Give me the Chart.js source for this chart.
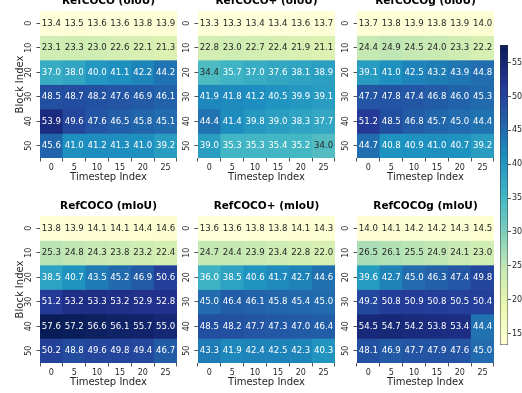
<!DOCTYPE html>
<html>
<head>
<meta charset="utf-8">
<script src="https://cdn.jsdelivr.net/npm/chart.js@4.4.1/dist/chart.umd.min.js"></script>
<style>
  html, body { margin: 0; padding: 0; background: #fff; }
  body { position: relative; width: 522px; height: 393px; overflow: hidden; }
  .panel { position: absolute; }
</style>
</head>
<body>
<script>
// Axes of every heatmap
const timesteps = [0, 5, 10, 15, 20, 25];
const blocks = [0, 10, 20, 30, 40, 50];

// One row per block index, one column per timestep
const refcocoOIoU = [
  [13.4, 13.5, 13.6, 13.6, 13.8, 13.9],
  [23.1, 23.3, 23.0, 22.6, 22.1, 21.3],
  [37.0, 38.0, 40.0, 41.1, 42.2, 44.2],
  [48.5, 48.7, 48.2, 47.6, 46.9, 46.1],
  [53.9, 49.6, 47.6, 46.5, 45.8, 45.1],
  [45.6, 41.0, 41.2, 41.3, 41.0, 39.2]
];
const refcocoPlusOIoU = [
  [13.3, 13.3, 13.4, 13.4, 13.6, 13.7],
  [22.8, 23.0, 22.7, 22.4, 21.9, 21.1],
  [34.4, 35.7, 37.0, 37.6, 38.1, 38.9],
  [41.9, 41.8, 41.2, 40.5, 39.9, 39.1],
  [44.4, 41.4, 39.8, 39.0, 38.3, 37.7],
  [39.0, 35.3, 35.3, 35.4, 35.2, 34.0]
];
const refcocogOIoU = [
  [13.7, 13.8, 13.9, 13.8, 13.9, 14.0],
  [24.4, 24.9, 24.5, 24.0, 23.3, 22.2],
  [39.1, 41.0, 42.5, 43.2, 43.9, 44.8],
  [47.7, 47.8, 47.4, 46.8, 46.0, 45.3],
  [51.2, 48.5, 46.8, 45.7, 45.0, 44.4],
  [44.7, 40.8, 40.9, 41.0, 40.7, 39.2]
];
const refcocoMIoU = [
  [13.8, 13.9, 14.1, 14.1, 14.4, 14.6],
  [25.3, 24.8, 24.3, 23.8, 23.2, 22.4],
  [38.5, 40.7, 43.5, 45.2, 46.9, 50.6],
  [51.2, 53.2, 53.3, 53.2, 52.9, 52.8],
  [57.6, 57.2, 56.6, 56.1, 55.7, 55.0],
  [50.2, 48.8, 49.6, 49.8, 49.4, 46.7]
];
const refcocoPlusMIoU = [
  [13.6, 13.6, 13.8, 13.8, 14.1, 14.3],
  [24.7, 24.4, 23.9, 23.4, 22.8, 22.0],
  [36.0, 38.5, 40.6, 41.7, 42.7, 44.6],
  [45.0, 46.4, 46.1, 45.8, 45.4, 45.0],
  [48.5, 48.2, 47.7, 47.3, 47.0, 46.4],
  [43.3, 41.9, 42.4, 42.5, 42.3, 40.3]
];
const refcocogMIoU = [
  [14.0, 14.1, 14.2, 14.2, 14.3, 14.5],
  [26.5, 26.1, 25.5, 24.9, 24.1, 23.0],
  [39.6, 42.7, 45.0, 46.3, 47.4, 49.8],
  [49.2, 50.8, 50.9, 50.8, 50.5, 50.4],
  [54.5, 54.7, 54.2, 53.8, 53.4, 44.4],
  [48.1, 46.9, 47.7, 47.9, 47.6, 45.0]
];

const panelTitles = [
  'RefCOCO (oIoU)', 'RefCOCO+ (oIoU)', 'RefCOCOg (oIoU)',
  'RefCOCO (mIoU)', 'RefCOCO+ (mIoU)', 'RefCOCOg (mIoU)'
];
const panelValues = [
  refcocoOIoU, refcocoPlusOIoU, refcocogOIoU,
  refcocoMIoU, refcocoPlusMIoU, refcocogMIoU
];
const colorbarTicks = [15, 20, 25, 30, 35, 40, 45, 50, 55];

// ---- styling / layout ----
const FONT = "'DejaVu Sans', 'Liberation Sans', sans-serif";
const INK = '#262626';
const AREA_W = 137, AREA_H = 147;
const TITLE_H = 21, XAXIS_H = 26, RIGHT_PAD = 4;
const panelBoxes = [
  { left: 40,  top: 11,  yAxisW: 40 },
  { left: 198, top: 11,  yAxisW: 22 },
  { left: 357, top: 11,  yAxisW: 22 },
  { left: 40,  top: 216, yAxisW: 40 },
  { left: 198, top: 216, yAxisW: 22 },
  { left: 357, top: 216, yAxisW: 22 }
];

// YlGnBu colour ramp
const ylgnbu = ['#ffffd9', '#edf8b1', '#c7e9b4', '#7fcdbb', '#41b6c4',
                '#1d91c0', '#225ea8', '#253494', '#081d58'];
const rampRGB = ylgnbu.map(h => [1, 3, 5].map(i => parseInt(h.substr(i, 2), 16)));

const allValues = panelValues.flat(2);
const vmin = Math.min(...allValues);
const vmax = Math.max(...allValues);

function rampAt(f) {
  const p = f * (rampRGB.length - 1);
  const i = Math.min(Math.floor(p), rampRGB.length - 2);
  const t = p - i;
  return rampRGB[i].map((c, k) => c + (rampRGB[i + 1][k] - c) * t);
}
// 256-entry lookup, like a matplotlib colormap
function cellRGB(v) {
  const t = Math.max(0, Math.min(1, (v - vmin) / (vmax - vmin)));
  const idx = Math.min(255, Math.floor(t * 256));
  return rampAt(idx / 255);
}
function rgbStr(c) {
  return 'rgb(' + c.map(x => Math.round(x)).join(',') + ')';
}
function luminance(c) {
  const lin = c.map(x => {
    const s = x / 255;
    return s <= 0.03928 ? s / 12.92 : Math.pow((s + 0.055) / 1.055, 2.4);
  });
  return 0.2126 * lin[0] + 0.7152 * lin[1] + 0.0722 * lin[2];
}

// Writes each cell's value in its centre
const cellLabels = {
  id: 'cellLabels',
  afterDatasetsDraw(chart) {
    const ctx = chart.ctx;
    ctx.save();
    ctx.font = '8.6px ' + FONT;
    ctx.textAlign = 'center';
    ctx.textBaseline = 'middle';
    chart.data.datasets.forEach((ds, i) => {
      chart.getDatasetMeta(i).data.forEach((bar, j) => {
        const v = ds.data[j].v;
        const p = bar.getProps(['x', 'y', 'base'], true);
        ctx.fillStyle = luminance(cellRGB(v)) > 0.408 ? INK : '#ffffff';
        ctx.fillText(v.toFixed(1), p.x, (p.y + p.base) / 2 + 0.5);
      });
    });
    ctx.restore();
  }
};

function addCanvas(left, top, w, h) {
  const div = document.createElement('div');
  div.className = 'panel';
  div.style.left = left + 'px';
  div.style.top = top + 'px';
  const cv = document.createElement('canvas');
  cv.width = w; cv.height = h;
  div.appendChild(cv);
  document.body.appendChild(div);
  return cv;
}

function drawHeatmap(k) {
  const box = panelBoxes[k];
  const values = panelValues[k];
  const firstCol = k % 3 === 0;
  const cv = addCanvas(box.left - box.yAxisW, box.top - TITLE_H,
                       box.yAxisW + AREA_W + RIGHT_PAD, TITLE_H + AREA_H + XAXIS_H);
  const datasets = blocks.map((b, r) => ({
    label: String(b),
    data: timesteps.map((t, j) => ({ x: String(t), y: [r, r + 1], v: values[r][j] })),
    backgroundColor: c => rgbStr(cellRGB(c.raw.v)),
    borderWidth: 0,
    grouped: false,
    barPercentage: 1,
    categoryPercentage: 1
  }));
  new Chart(cv, {
    type: 'bar',
    data: { labels: timesteps.map(String), datasets },
    options: {
      responsive: false,
      animation: false,
      devicePixelRatio: 1,
      layout: { padding: { right: RIGHT_PAD } },
      plugins: {
        legend: { display: false },
        tooltip: { enabled: false },
        title: {
          display: true,
          text: panelTitles[k],
          fullSize: false,
          color: '#000',
          font: { family: FONT, size: 10.5, weight: 'bold', lineHeight: '12px' },
          padding: { top: 5, bottom: 4 }
        }
      },
      scales: {
        x: {
          type: 'category',
          grid: { drawOnChartArea: false, drawTicks: true, tickLength: 3.5, color: INK, lineWidth: 0.8 },
          border: { display: false },
          ticks: { color: INK, font: { family: FONT, size: 8 }, padding: 1.5, maxRotation: 0, autoSkip: false },
          title: {
            display: true, text: 'Timestep Index', color: INK,
            font: { family: FONT, size: 10, lineHeight: 1.2 },
            padding: { top: 0, bottom: 0.5 }
          },
          afterFit: s => { s.height = XAXIS_H; }
        },
        y: {
          type: 'linear',
          min: 0,
          max: blocks.length,
          reverse: true,
          afterBuildTicks: s => { s.ticks = blocks.map((b, r) => ({ value: r + 0.5 })); },
          grid: { drawOnChartArea: false, drawTicks: true, tickLength: 3.5, color: INK, lineWidth: 0.8 },
          border: { display: false },
          ticks: {
            color: INK, font: { family: FONT, size: 8 }, padding: 2,
            minRotation: 90, maxRotation: 90, crossAlign: 'center',
            callback: (val, idx) => String(blocks[idx])
          },
          title: {
            display: firstCol, text: 'Block Index', color: INK,
            font: { family: FONT, size: 10, lineHeight: 1.2 },
            padding: { top: 14, bottom: 0 }
          },
          afterFit: s => { s.width = box.yAxisW; }
        }
      }
    },
    plugins: [cellLabels]
  });
}

for (let k = 0; k < panelValues.length; k++) drawHeatmap(k);

// Shared colour bar
(function drawColorbar() {
  const PAD = 10, BAR_W = 8, AXIS_W = 14;
  const cv = addCanvas(500, 45 - PAD, BAR_W + AXIS_W, 300 + 2 * PAD);
  new Chart(cv, {
    type: 'bar',
    data: {
      labels: [''],
      datasets: [{
        data: [[vmin, vmax]],
        backgroundColor: c => {
          const chart = c.chart;
          const ys = chart.scales.y;
          if (!ys || !chart.chartArea) return ylgnbu[4];
          const g = chart.ctx.createLinearGradient(0, ys.getPixelForValue(vmin), 0, ys.getPixelForValue(vmax));
          ylgnbu.forEach((col, i) => g.addColorStop(i / (ylgnbu.length - 1), col));
          return g;
        },
        borderColor: '#333',
        borderWidth: 0.8,
        borderSkipped: false,
        barPercentage: 1,
        categoryPercentage: 1
      }]
    },
    options: {
      responsive: false,
      animation: false,
      devicePixelRatio: 1,
      layout: { padding: { top: PAD, bottom: PAD } },
      plugins: { legend: { display: false }, tooltip: { enabled: false } },
      scales: {
        x: { display: false },
        y: {
          position: 'right',
          min: vmin,
          max: vmax,
          afterBuildTicks: s => { s.ticks = colorbarTicks.map(v => ({ value: v })); },
          grid: { drawOnChartArea: false, drawTicks: true, tickLength: 3, color: INK, lineWidth: 0.8 },
          border: { display: false },
          ticks: { color: INK, font: { family: FONT, size: 8 }, padding: 1 },
          afterFit: s => { s.width = AXIS_W; }
        }
      }
    }
  });
})();
</script>
</body>
</html>
